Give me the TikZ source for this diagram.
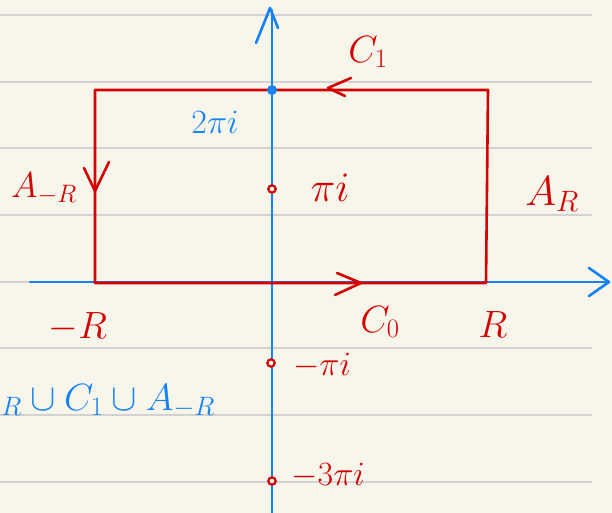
\RequirePackage{fix-cm}
\documentclass[tikz,border=0pt]{standalone}
\usepackage{amsmath}
\definecolor{bgc}{RGB}{248,246,235}
\definecolor{rulec}{RGB}{210,210,210}
\definecolor{pred}{RGB}{212,0,0}
\definecolor{pblue}{RGB}{20,130,245}
\tikzset{
  rule/.style={draw=rulec,line width=1.5pt},
  axis/.style={draw=pblue,line width=2.6pt,line cap=round,line join=round},
  contour/.style={draw=pred,line width=2.6pt,line cap=round,line join=round},
  redlbl/.style={text=pred,inner sep=0pt,font=\fontsize{38}{42}\selectfont},
  bluelbl/.style={text=pblue,inner sep=0pt,font=\fontsize{38}{42}\selectfont},
  smallred/.style={text=pred,inner sep=0pt,font=\fontsize{34}{38}\selectfont},
  reddot/.style={draw=pred,line width=2.2pt,fill=bgc},
}
\begin{document}
\begin{tikzpicture}[x=1pt,y=-1pt]
\fill[bgc] (0,0) rectangle (612,513);
\useasboundingbox (0,0) rectangle (612,513);
\clip (0,0) rectangle (612,513);
% ruled lines
\foreach \yy in {15,82,148,215,282,348,415,482} \draw[rule] (0,\yy) -- (592,\yy);
% coordinates
\coordinate (xs) at (30,282);
\coordinate (xe) at (609,282);
\coordinate (ys) at (272,513);
\coordinate (ye) at (270,8);
\coordinate (bl) at (95,283);
\coordinate (tl) at (95,90);
\coordinate (tr) at (488,90);
\coordinate (br) at (486,283);
% axes
\draw[axis] (xs) -- (xe);
\draw[axis] (589,268) -- (xe) -- (589,296);
\draw[axis] (ys) -- (272,10);
\draw[axis] (256,43) -- (ye) -- (278,28);
% contour
\draw[contour] (bl) -- (br) -- (tr) -- (tl) -- (bl);
\draw[contour] (84,168) -- (95,191) -- (109,162);
\draw[contour] (351,78) -- (328,88) -- (345,96);
\draw[contour] (337,273) -- (361,283) -- (335,295);
% points
\fill[pblue] (272,90) circle (5);
\node[reddot,circle,inner sep=2.6pt] (p1) at (272,189) {};
\node[reddot,circle,inner sep=2.6pt] (p2) at (271,363) {};
\node[reddot,circle,inner sep=2.6pt] (p3) at (272,481) {};
% labels
\node[text=pblue,inner sep=0pt,font=\fontsize{34}{38}\selectfont] (l2pi) at (215,122) {$2\pi i$};
\node[redlbl] (lc1) at (368,52) {$C_1$};
\node[redlbl,font=\fontsize{42}{46}\selectfont] (lpi) at (330,188) {$\pi i$};
\node[redlbl,font=\fontsize{36}{40}\selectfont] (lam) at (44,189) {$A_{-R}$};
\node[redlbl,font=\fontsize{42}{46}\selectfont] (lar) at (552,194) {$A_R$};
\node[redlbl] (lmr) at (78,327) {$-R$};
\node[redlbl] (lc0) at (380,322) {$C_0$};
\node[redlbl] (lr) at (493,325) {$R$};
\node[smallred] (lmpi) at (322,366) {$-\pi i$};
\node[smallred] (lm3pi) at (328,476) {$-3\pi i$};
\node[bluelbl,anchor=base east] (lu) at (215,410) {$A_R\cup C_1\cup A_{-R}$};
\end{tikzpicture}
\end{document}
